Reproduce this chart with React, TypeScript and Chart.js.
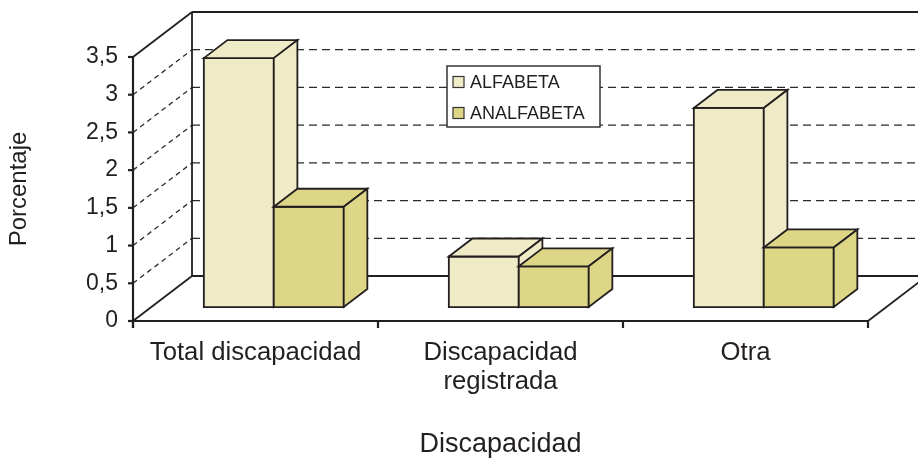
import React, { useEffect, useRef } from 'react';
import { Chart, registerables } from 'chart.js';

Chart.register(...registerables);

// ---- data ----
const categories = [['Total discapacidad'], ['Discapacidad', 'registrada'], ['Otra']];
const seriesNames = ['ALFABETA', 'ANALFABETA'];
const alfabeta = [3.3, 0.67, 2.64];
const analfabeta = [1.33, 0.54, 0.79];
const yTickLabels = ['0', '0,5', '1', '1,5', '2', '2,5', '3', '3,5'];
const yMin = 0;
const yMax = 3.5;
const yStep = 0.5;
const xTitle = 'Discapacidad';
const yTitle = 'Porcentaje';

// ---- style ----
const FONT = '"Liberation Sans", Arial, Helvetica, sans-serif';
const INK = '#231F20';
const FILLS = ['#F0EBC7', '#DED687'];
const DEPTH = { dx: 59, dy: -45 };
const BAR_OFFSET = 0.31;
const BAR_DEPTH = 0.4;

function line(ctx: CanvasRenderingContext2D, x1: number, y1: number, x2: number, y2: number) {
  ctx.beginPath();
  ctx.moveTo(x1, y1);
  ctx.lineTo(x2, y2);
  ctx.stroke();
}

function poly(ctx: CanvasRenderingContext2D, pts: number[][], fill: string) {
  ctx.beginPath();
  ctx.moveTo(pts[0][0], pts[0][1]);
  for (let i = 1; i < pts.length; i++) ctx.lineTo(pts[i][0], pts[i][1]);
  ctx.closePath();
  ctx.fillStyle = fill;
  ctx.fill();
  ctx.stroke();
}

const threeD = {
  id: 'threeD',
  beforeDatasetsDraw(chart: any) {
    const { ctx, chartArea: a, scales } = chart;
    const x = scales.x;
    const y = scales.y;
    const W = chart.width;
    const { dx, dy } = DEPTH;
    const top = y.getPixelForValue(yMax);
    const bot = y.getPixelForValue(yMin);
    ctx.save();
    ctx.lineCap = 'butt';

    // dashed gridlines on back wall and left wall
    ctx.strokeStyle = '#2b2b2b';
    ctx.lineWidth = 1.3;
    y.ticks.forEach((t: any) => {
      if (t.value <= yMin || t.value >= yMax) return;
      const py = y.getPixelForValue(t.value);
      ctx.setLineDash([8, 5]);
      line(ctx, a.left + dx, py + dy, W, py + dy);
      ctx.setLineDash([5, 4]);
      line(ctx, a.left, py, a.left + dx, py + dy);
    });
    ctx.setLineDash([]);

    // wall edges
    ctx.strokeStyle = INK;
    ctx.lineWidth = 1.8;
    line(ctx, a.left + dx, top + dy, a.left + dx, bot + dy);
    line(ctx, a.left + dx, top + dy, W, top + dy);
    line(ctx, a.left + dx, bot + dy, W, bot + dy);
    line(ctx, a.left, top, a.left + dx, top + dy);
    line(ctx, a.left, bot, a.left + dx, bot + dy);
    line(ctx, a.right, bot, a.right + dx, bot + dy);

    // front axes
    ctx.lineWidth = 2.2;
    line(ctx, a.left, top, a.left, bot + 7);
    line(ctx, a.left, bot, a.right, bot);
    y.ticks.forEach((t: any) => {
      const py = y.getPixelForValue(t.value);
      line(ctx, a.left - 5, py, a.left, py);
    });
    const n = chart.data.labels.length;
    for (let i = 0; i <= n; i++) {
      const px = x.getPixelForValue(i - 0.5);
      line(ctx, px, bot, px, bot + 7);
    }

    // 3D bars
    const sx = dx * BAR_OFFSET;
    const sy = dy * BAR_OFFSET;
    const bx = dx * BAR_DEPTH;
    const by = dy * BAR_DEPTH;
    const metas = chart.getSortedVisibleDatasetMetas();
    ctx.lineWidth = 1.8;
    ctx.lineJoin = 'miter';
    ctx.strokeStyle = INK;
    for (let c = 0; c < n; c++) {
      metas.forEach((meta: any, di: number) => {
        const el = meta.data[c];
        const p = el.getProps(['x', 'y', 'base', 'width'], true);
        const l = p.x - p.width / 2 + sx;
        const r = p.x + p.width / 2 + sx;
        const t = p.y + sy;
        const b = p.base + sy;
        const fill = FILLS[di];
        poly(ctx, [[l, t], [r, t], [r, b], [l, b]], fill);
        poly(ctx, [[l, t], [l + bx, t + by], [r + bx, t + by], [r, t]], fill);
        poly(ctx, [[r, t], [r + bx, t + by], [r + bx, b + by], [r, b]], fill);
      });
    }
    ctx.restore();
    return false;
  },
  afterDraw(chart: any) {
    const ctx = chart.ctx;
    const bx = 447, by = 66, bw = 153, bh = 61;
    ctx.save();
    ctx.fillStyle = '#FFFFFF';
    ctx.fillRect(bx, by, bw, bh);
    ctx.strokeStyle = '#333333';
    ctx.lineWidth = 1.5;
    ctx.strokeRect(bx, by, bw, bh);
    ctx.font = `18px ${FONT}`;
    ctx.textBaseline = 'middle';
    ctx.textAlign = 'left';
    chart.data.datasets.forEach((ds: any, i: number) => {
      const cy = by + 16 + i * 31;
      ctx.fillStyle = ds.backgroundColor;
      ctx.lineWidth = 1.2;
      ctx.fillRect(bx + 6, cy - 5.5, 11, 11);
      ctx.strokeRect(bx + 6, cy - 5.5, 11, 11);
      ctx.fillStyle = INK;
      ctx.fillText(ds.label, bx + 23, cy + 1);
    });
    ctx.restore();
  },
};

export default function App() {
  const ref = useRef<HTMLCanvasElement | null>(null);
  useEffect(() => {
    if (!ref.current) return;
    const chart = new Chart(ref.current, {
      type: 'bar',
      data: {
        labels: categories as any,
        datasets: [
          { label: seriesNames[0], data: alfabeta, backgroundColor: FILLS[0], borderColor: INK, borderWidth: 1.5, barPercentage: 1, categoryPercentage: 0.571 },
          { label: seriesNames[1], data: analfabeta, backgroundColor: FILLS[1], borderColor: INK, borderWidth: 1.5, barPercentage: 1, categoryPercentage: 0.571 },
        ],
      },
      options: {
        responsive: false,
        animation: false,
        layout: { padding: { top: 57, right: 50, left: 0, bottom: 0 } },
        plugins: { legend: { display: false }, tooltip: { enabled: false } },
        scales: {
          x: {
            grid: { display: false, drawTicks: false },
            border: { display: false },
            ticks: { font: { family: FONT, size: 25.7, lineHeight: 1.14 }, color: INK, padding: 17, maxRotation: 0, autoSkip: false },
            title: { display: true, text: xTitle, font: { family: FONT, size: 27, lineHeight: 1.05 }, color: INK, padding: 0 },
            afterFit: (s: any) => { s.height = 138; },
          },
          y: {
            min: yMin,
            max: yMax,
            grid: { display: false, drawTicks: false },
            border: { display: false },
            ticks: { stepSize: yStep, callback: (_v: any, i: number) => yTickLabels[i], font: { family: FONT, size: 23 }, color: INK, padding: 15 },
            title: { display: true, text: yTitle, font: { family: FONT, size: 24 }, color: INK, padding: { top: 5, bottom: 0 } },
            afterFit: (s: any) => { s.width = 133; },
          },
        },
      },
      plugins: [threeD],
    });
    return () => chart.destroy();
  }, []);
  return (
    <div style={{ position: 'fixed', left: 0, top: 0, width: 918, height: 459, background: '#fff' }}>
      <canvas ref={ref} width={918} height={459} style={{ display: 'block' }} />
    </div>
  );
}
